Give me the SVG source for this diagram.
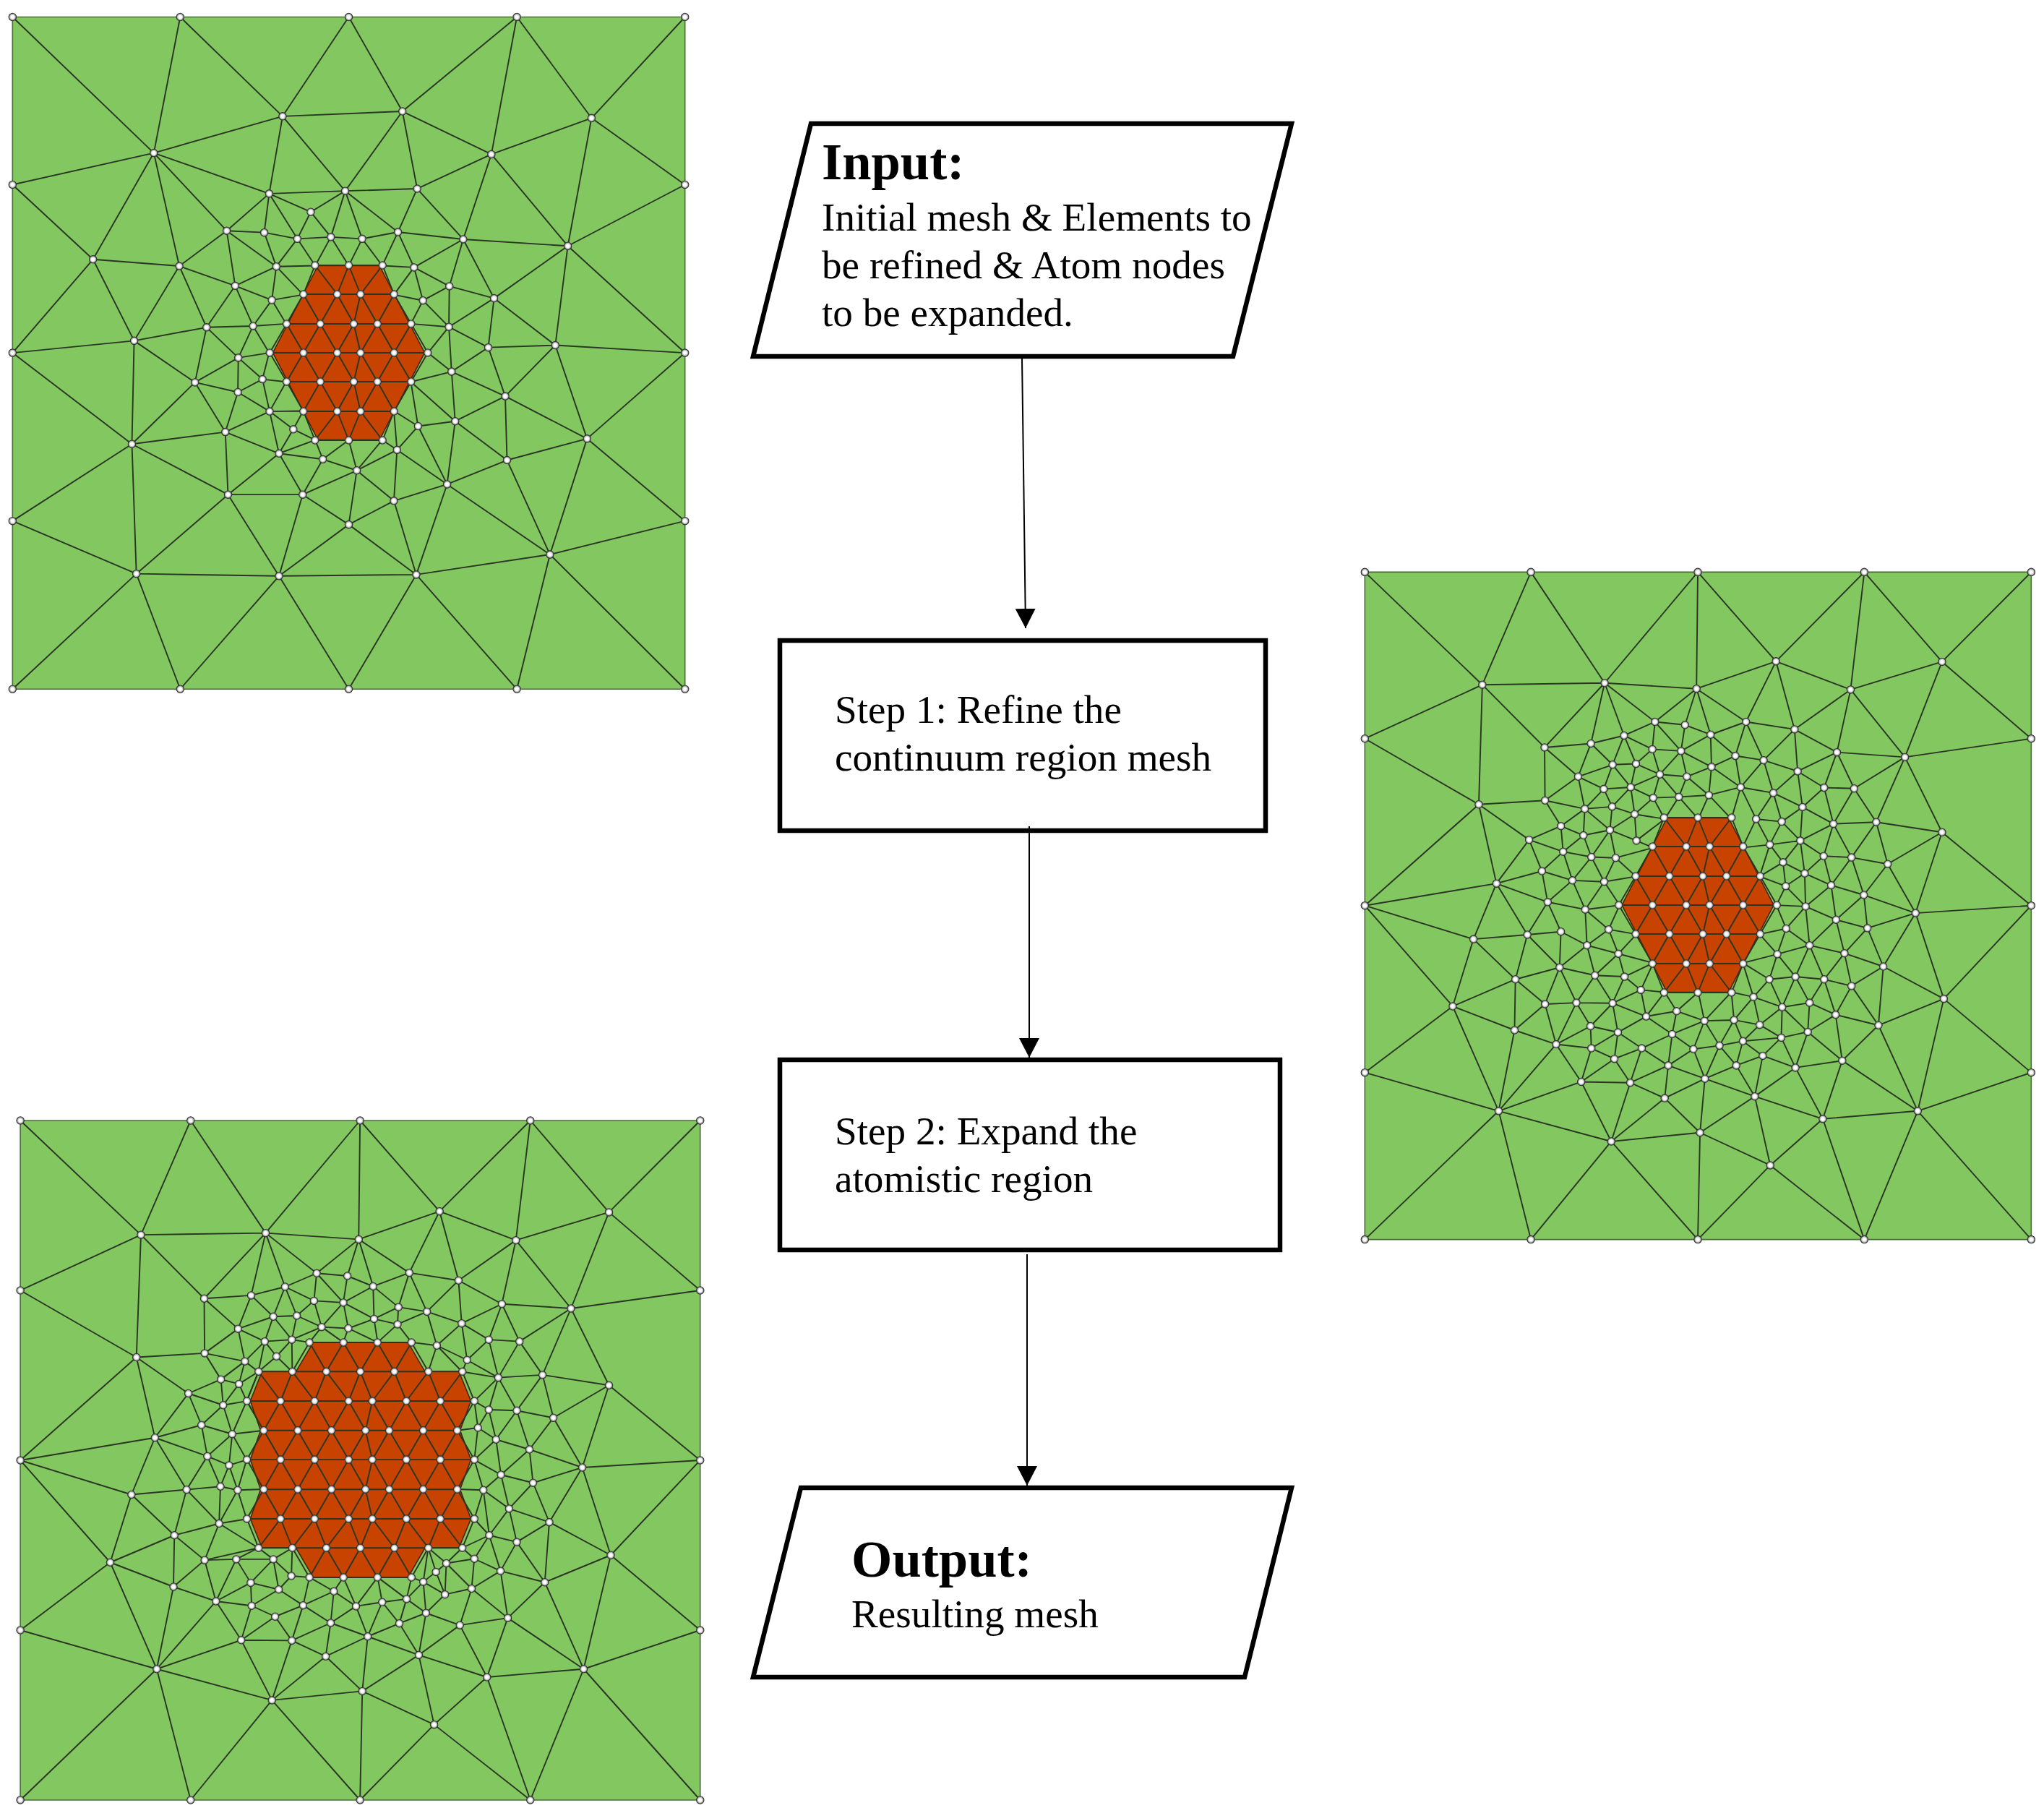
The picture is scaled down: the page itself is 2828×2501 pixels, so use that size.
<svg xmlns="http://www.w3.org/2000/svg" xmlns:xlink="http://www.w3.org/1999/xlink" width="2828" height="2501" viewBox="0 0 2828 2501">
<style>
.bg{fill:#82c760;stroke:#4a6b3a;stroke-width:1.6;vector-effect:non-scaling-stroke}
.e{fill:none;stroke:#2a3623;stroke-width:1.9;vector-effect:non-scaling-stroke;stroke-linejoin:round}
.r{fill:#c84300;stroke:#4a2410;stroke-width:1.6;vector-effect:non-scaling-stroke}
.n{fill:none;stroke:none;marker-start:url(#nd);marker-mid:url(#nd);marker-end:url(#nd)}
.box{fill:#fff;stroke:#000;stroke-width:6.5}
.t{font-family:"Liberation Serif","Times New Roman",serif;font-size:55.2px;fill:#000}
.h{font-family:"Liberation Serif","Times New Roman",serif;font-size:72.5px;font-weight:700;fill:#000}
.c{fill:none;stroke:#000;stroke-width:2;marker-end:url(#arr)}
</style>
<defs>
<radialGradient id="gn"><stop offset="0" stop-color="#fff"/><stop offset=".42" stop-color="#fff"/><stop offset=".7" stop-color="#bdbdbd"/><stop offset="1" stop-color="#6a6a6a"/></radialGradient>
<marker id="nd" viewBox="-7 -7 14 14" markerWidth="14" markerHeight="14" markerUnits="strokeWidth" refX="0" refY="0" orient="0"><circle r="5.2" fill="url(#gn)" stroke="#333" stroke-width="1.1"/></marker>
<marker id="arr" viewBox="0 0 27 28" markerWidth="27" markerHeight="28" markerUnits="userSpaceOnUse" refX="27" refY="14" orient="auto"><path d="M0 0L27 14L0 28Z" fill="#000"/></marker>
<g id="hex">
<polygon class="r" points="-42.5,-120.5 42.5,-120.5 105,0 42.5,120.5 -42.5,120.5 -105,0"/>
<g id="hexhalf"><path class="e" d="M-46.7 -121 46.7 -121M-62.7 -81 62.7 -81M-86 -40 86.3 -40M-109.3 0 109.3 0M-62.7 -81 -46.7 -121 -16 -81 0 -121 16.3 -81 46.7 -121 62.7 -81M-86 -40 -62.7 -81 -39.3 -40 -16 -81 7 -40 16.3 -81 39.7 -40 62.7 -81 86.3 -40M-109.3 0 -86 -40 -62.7 0 -39.3 -40 -16 0 7 -40 16.3 0 39.7 -40 62.7 0 86.3 -40 109.3 0"/></g>
<use xlink:href="#hexhalf" href="#hexhalf" transform="scale(1,-1)"/>
<path class="n" stroke-width="1" d="M-46.7 -121 0 -121 46.7 -121 -62.7 -81 -16 -81 16.3 -81 62.7 -81 -86 -40 -39.3 -40 7 -40 39.7 -40 86.3 -40 -109.3 0 -62.7 0 -16 0 16.3 0 62.7 0 109.3 0 -86 40 -39.3 40 7 40 39.7 40 86.3 40 -62.7 81 -16 81 16.3 81 62.7 81 -46.7 121 0 121 46.7 121"/>
</g>
</defs>
<rect width="2828" height="2501" fill="#fff"/>

<g id="mesh-initial" transform="scale(.6186)">
<rect class="bg" x="28" y="38" width="1504" height="1503"/>
<path class="e" d="M28 38 344 342 403 38 632 260 780 38 900 249 1156 38 1099 345M1156 38 1323 264 1532 38M28 413 344 342 632 260 900 249 1099 345 1323 264 1532 413 1270 550 1099 345 933 422 900 249 772 427 632 260 602 433 344 342 208 580 28 413M344 342 401 595M344 342 507 516 602 433 772 427 933 422M1099 345 1036 535M1323 264 1270 550M602 433 591 520M602 433 665 534M602 433 695 474 772 427 740 530 695 474 665 534M772 427 810 534M772 427 890 519 933 422 1036 535M507 516 591 520 665 534 740 530 810 534 890 519 1036 535 1270 550 1105 667 1036 535 1005 640M507 516 401 595 526 639 507 516 618 596 591 520M665 534 618 596 705 594 665 534M740 530 705 594M740 530 780 594 810 534 855 594 890 519 926 598 1036 535M1270 550 1242 772M1270 550 1532 789M208 580 401 595 300 762 208 580 28 789M401 595 462 732 526 639 618 596 608 671 526 639 566 729 608 671 678 659 618 596M608 671 640 724 566 729M926 598 855 594M926 598 881 659M926 598 946 672 1005 640 926 598M1005 640 1105 667M1005 640 1004 731 946 672 881 659M946 672 919 724 1004 731 1105 667 1092 777 1004 731 957 789 1010 831 1004 731M1105 667 1242 772M462 732 566 729M462 732 300 762 436 855 462 732 533 800 566 729 602 789 533 800 436 855 295 993 300 762 28 789 295 993M533 800 587 848 602 789M533 800 532 877 587 848 640 854M587 848 603 920 640 854M436 855 532 877 603 920M436 855 504 966 532 877M1010 831 919 854 1018 942 1010 831 1092 777 1242 772 1532 789M1010 831 1130 886 1092 777M1242 772 1130 886 1018 942M1242 772 1313 981 1130 886 1134 1029 1313 981 1532 789M1313 981 1532 1165 1230 1240 1313 981M919 854 935 953 1018 942 1000 1083 935 953 881 919M935 953 888 1006 881 919M1018 942 1134 1029 1000 1083 888 1006M1134 1029 1230 1240 1000 1083M603 920 678 919 656 960 603 920 504 966 295 993 510 1106 504 966 624 1014 603 920M656 960 705 984 624 1014 656 960M295 993 28 1165 305 1283 295 993M624 1014 722 1027 705 984M624 1014 510 1106 677 1106 624 1014M722 1027 780 984 798 1052 855 984 888 1006 798 1052 722 1027 677 1106 798 1052 780 1173 881 1120 798 1052M888 1006 881 1120 1000 1083 931 1285 881 1120M510 1106 305 1283M510 1106 624 1288 677 1106 780 1173 624 1288M780 1173 931 1285M305 1283 624 1288 931 1285 1230 1240 1532 1165M28 1541 305 1283 403 1541 624 1288 780 1541 931 1285 1156 1541 1230 1240 1532 1541"/>
<path class="n" stroke-width="1.62" d="M28 38 403 38 780 38 1156 38 1532 38 28 413 28 789 28 1165 28 1541 1532 413 1532 789 1532 1165 1532 1541 403 1541 780 1541 1156 1541 344 342 632 260 900 249 1323 264 1099 345 602 433 772 427 933 422 1270 550 208 580 401 595 507 516 591 520 695 474 665 534 740 530 810 534 890 519 1036 535 618 596 926 598 1005 640 1105 667 526 639 608 671 946 672 462 732 566 729 1004 731 300 762 1092 777 1242 772 533 800 1010 831 436 855 587 848 1130 886 532 877 603 920 1018 942 935 953 1313 981 295 993 504 966 656 960 888 1006 624 1014 722 1027 1134 1029 798 1052 1000 1083 510 1106 677 1106 881 1120 780 1173 1230 1240 305 1283 624 1288 931 1285"/>
</g>
<use id="mesh-initial-atoms" xlink:href="#hex" href="#hex" x="482.5" y="488"/>

<g id="mesh-refined" transform="translate(1870 770) scale(.611)">
<rect class="bg" x="30" y="35" width="1509" height="1511"/>
<path class="e" d="M30 35 296 290 406 35 573 286 784 35 781 299M784 35 961 237 1161 35 1130 301M1161 35 1337 238 1539 35M30 412 296 290 573 286 781 299 961 237 1130 301 1337 238 1539 412 1253 454 1337 238M1130 301 1253 454M30 412 288 561 296 290 437 432 573 286 542 423M573 286 617 405M573 286 687 374 781 299 755 381M781 299 813 403M781 299 893 374 961 237 1003 391 1130 301 1099 443 1253 454 1337 624 1277 807 1539 790 1337 624M1253 454 1188 601M1253 454 1138 525M1337 624 1188 601M1337 624 1214 696 1277 807 1160 766M1277 807 1168 841M1277 807 1204 928 1341 1001 1277 807M1341 1001 1539 790M1341 1001 1539 1168 1282 1255 1341 1001 1193 1061 1282 1255 1111 1141 1193 1061M1282 1255 1067 1273 1161 1546 1282 1255 1539 1546M1341 1001 1204 928M1067 1273 948 1378 1161 1546M1067 1273 1111 1141M1067 1273 1005 1157M1067 1273 913 1222 948 1378 784 1546 789 1304 948 1378M789 1304 588 1324 784 1546M789 1304 913 1222M789 1304 709 1226 588 1324 631 1191M588 1324 520 1189M588 1324 406 1546 333 1255 588 1324M333 1255 30 1546M333 1255 30 1168 229 1018 333 1255 369 1072 229 1018 30 790 276 866 229 1018 371 957 276 866 328 740 30 790 288 561 328 740 402 641 288 561 438 552 437 432 542 423 513 498 437 432M333 1255 463 1104M333 1255 520 1189M328 740 431 712M328 740 444 782M328 740 398 856 276 866M371 957 369 1072M542 423 617 405 687 374 755 381 813 403 893 374 1003 391 1099 443M542 423 591 471 617 405 681 436 687 374 746 440 755 381M617 405 644 469 681 436 746 440 813 403 815 476 746 440 698 493 681 436M813 403 869 451 893 374 933 461 1003 391 1010 486 1099 443 1070 523 1010 486 933 461 869 451 815 476 881 522 869 451M1099 443 1138 525 1070 523 1021 567 1091 605 1070 523M933 461 881 522 955 535 933 461M955 535 1010 486 1021 567 955 535 916 594 881 522 860 594 809 540 881 522 815 476 809 540 759 498 746 440M815 476 759 498 698 493 644 469 591 471 513 498 528 571 571 526 513 498 438 552 528 571 590 566 571 526 632 522 591 471 571 526M644 469 632 522 698 493 683 546 632 522 641 583 590 566 632 522M698 493 741 544 759 498M683 546 741 544 809 540 785 594 741 544 709 594 683 546 641 583 709 594M1138 525 1091 605 1188 601 1138 525M955 535 974 600 916 594 885 659 947 652 916 594M974 600 1021 567 1016 643 974 600 947 652 1016 643 1091 605 1069 678 1016 643 977 692 947 652 924 724 977 692 983 746 924 724M1091 605 1132 681 1188 601 1214 696 1132 681 1069 678 1026 717 1016 643M1069 678 1086 744 1026 717 977 692M1132 681 1086 744 1160 766 1132 681M1214 696 1160 766 1097 822 1086 744 1028 792 1026 717 983 746 1028 792 962 789 983 746M1160 766 1168 841 1097 822 1028 792 984 842 962 789M1028 792 1037 880 1097 822 1116 898 1168 841 1204 928 1116 898 1037 880 984 842 1037 880 964 900 984 842 924 855 964 900 886 920 946 957 964 900 1005 951 1037 880 1070 957 1116 898 1132 972 1204 928 1193 1061 1132 972 1070 957 1005 951 946 957 975 1020 1005 951 1037 1010 1070 957 1096 1037 1132 972M1096 1037 1193 1061M1037 1010 1096 1037 1033 1076 1037 1010 975 1020 1033 1076 973 1089 975 1020 910 997 946 957M886 920 910 997 860 986 866 1049 910 997 924 1060 975 1020M866 1049 924 1060 973 1089 886 1097 924 1060M866 1049 886 1097 833 1107 866 1049 799 1051 860 986M785 986 799 1051 736 1029 785 986M709 986 736 1029 667 1041 709 986 655 981 683 920 618 951 655 981 591 1011 618 951 604 899 683 920M604 899 551 948 618 951 591 1011 551 948 509 1010 591 1011 667 1041 655 981M509 1010 471 930 551 948 533 880 604 899 582 844 533 880 471 930 474 849 533 880 529 799 582 844 607 789 529 799 572 736 607 789M582 844 645 855 604 899M471 930 438 1013 509 1010 463 1104 438 1013 371 957 471 930 398 856 474 849 444 782 529 799 500 733 444 782 398 856 371 957M444 782 431 712 500 733 572 736 543 680 500 733 479 668 431 712 402 641 474 610 438 552M402 641 479 668 474 610 525 631 479 668 543 680 525 631 528 571 474 610M525 631 585 619 528 571M585 619 590 566M585 619 641 583 645 643 585 619 543 680 598 682 585 619M645 643 709 594M645 643 683 659 598 682 644 724 572 736 598 682M438 1013 369 1072 463 1104 369 1072M463 1104 541 1063 509 1010M541 1063 591 1011 603 1077 541 1063 543 1113 463 1104 520 1189 543 1113 603 1077 667 1041 591 1011M603 1077 657 1113 595 1137 520 1189 631 1191 595 1137 603 1077M595 1137 543 1113M657 1113 631 1191 717 1152 657 1113 726 1081 667 1041 736 1029 726 1081 799 1051 774 1115 726 1081 717 1152 774 1115 833 1107 799 1051M774 1115 800 1182 717 1152 709 1226 631 1191M709 1226 800 1182 789 1304M800 1182 833 1107 871 1152 800 1182 913 1222 871 1152 886 1097 931 1130 871 1152M931 1130 973 1089 886 1097M973 1089 1005 1157 931 1130 913 1222 1005 1157 1033 1076 973 1089M1033 1076 1111 1141 1005 1157M1096 1037 1111 1141"/>
<path class="n" stroke-width="1.64" d="M30 35 406 35 784 35 1161 35 1539 35 30 412 30 790 30 1168 30 1546 406 1546 784 1546 1161 1546 1539 1546 1539 412 1539 790 1539 1168 296 290 573 286 781 299 961 237 1130 301 1337 238 1253 454 1337 624 1277 807 1341 1001 1282 1255 1067 1273 948 1378 789 1304 588 1324 333 1255 229 1018 276 866 328 740 288 561 437 432 542 423 617 405 687 374 755 381 813 403 893 374 1003 391 1099 443 513 498 591 471 644 469 681 436 746 440 869 451 933 461 571 526 632 522 698 493 759 498 815 476 1010 486 438 552 528 571 590 566 683 546 741 544 809 540 881 522 955 535 1070 523 1138 525 641 583 916 594 974 600 1021 567 1091 605 1188 601 474 610 525 631 585 619 645 643 947 652 1016 643 402 641 479 668 543 680 598 682 977 692 1069 678 1132 681 1214 696 431 712 500 733 572 736 1026 717 983 746 1086 744 444 782 529 799 1028 792 1160 766 398 856 474 849 582 844 984 842 1097 822 1168 841 533 880 604 899 964 900 1037 880 1116 898 471 930 551 948 618 951 1204 928 371 957 655 981 910 997 946 957 1005 951 1070 957 1132 972 438 1013 509 1010 591 1011 736 1029 975 1020 1037 1010 667 1041 799 1051 866 1049 924 1060 1096 1037 1193 1061 369 1072 541 1063 603 1077 726 1081 973 1089 1033 1076 463 1104 543 1113 657 1113 774 1115 833 1107 886 1097 595 1137 717 1152 871 1152 931 1130 1005 1157 1111 1141 520 1189 631 1191 800 1182 709 1226 913 1222"/>
</g>
<use id="mesh-refined-atoms" xlink:href="#hex" href="#hex" x="2349" y="1252"/>

<g id="mesh-result">
<g transform="translate(0 1520) scale(.625)">
<rect class="bg" x="45" y="48" width="1505" height="1504"/>
<path class="e" d="M45 48 312 301 422 48 588 297 797 48 794 311M797 48 973 249 1174 48 1142 313M1174 48 1348 251 1550 48M45 424 312 301 588 297 794 311 973 249 1142 313 1348 251 1550 424 1264 464 1348 251M1142 313 1264 464 1348 634 1550 800 1289 816 1348 634 1201 611 1264 464 1150 537M1348 634 1225 706 1289 816 1172 776M1289 816 1180 850M1289 816 1216 937 1352 1010 1289 816M1352 1010 1550 800M1352 1010 1550 1176 1292 1262 1352 1010 1206 1070 1292 1262 1124 1149 1078 1280 1292 1262 1174 1552 1078 1280 961 1385 1174 1552M1292 1262 1550 1552M1352 1010 1216 937M1078 1280 1018 1165M1078 1280 927 1231 961 1385 797 1552 802 1311 961 1385M802 1311 602 1331 797 1552M802 1311 927 1231M802 1311 721 1234 602 1331 646 1199M802 1311 814 1190M602 1331 534 1198M602 1331 422 1552 347 1262 602 1331M347 1262 45 1552M347 1262 45 1176 244 1026 347 1262 384 1080 244 1026 45 800 291 876 244 1026 386 966 291 876 343 750 45 800 302 572 343 750 417 652 302 572 453 563 452 442 312 301 302 572 45 424M343 750 446 722M343 750 459 791M343 750 413 865 291 876M347 1262 478 1112M347 1262 534 1198M386 966 384 1080M588 297 452 442 556 435 588 297 631 416M588 297 701 386 794 311 769 392M794 311 826 415M794 311 906 385 973 249 1015 402 1142 313 1111 454 1264 464M452 442 527 509 556 435 631 416 701 386 769 392 826 415 906 385 1015 402 1111 454 1022 497 1015 402M556 435 605 482 631 416 695 447 701 386 760 451 769 392M631 416 657 480 695 447 760 451 826 415 828 487 760 451 712 505 695 447M826 415 882 461 906 385 945 471 1015 402M945 471 1022 497 1082 533 1111 454 1150 537 1082 533 1034 578 1022 497 967 546 945 471 880 499 882 461 945 471M882 461 828 487 880 499 836 539 828 487 771 508 760 451M880 499 911 539 967 546 948 604M967 546 1034 578 1023 604 967 546M1034 578 1103 617 1082 533M1150 537 1103 617 1023 604M1150 537 1201 611 1103 617 1144 690 1201 611 1225 706 1144 690 1172 776 1225 706M1144 690 1098 754 1172 776 1109 832 1098 754 1058 728 1012 734M1058 728 1050 799 1098 754 1082 688 1058 728 1050 669 1082 688 1103 617 1050 669M1082 688 1144 690M1109 832 1050 799 1070 866 1012 864M1070 866 1050 930 1083 966 1070 866 1127 907 1083 966 1144 981 1127 907 1109 832 1180 850 1172 776M1070 866 1109 832M1180 850 1127 907 1216 937 1180 850M1216 937 1144 981 1206 1070 1216 937M1206 1070 1108 1045 1144 981M1108 1045 1083 966 1050 1018 1108 1045 1044 1084 1050 1018 1023 994 1083 966M1206 1070 1124 1149 1108 1045M1044 1084 1124 1149 1018 1165 1044 1084 985 1097 988 1028 1044 1084M988 1028 1050 1018M988 1028 1023 994M988 1028 948 994 965 1047 988 1028M948 994 937 1069 965 1047 985 1097 937 1069 911 1059M937 1069 900 1107 911 1059M900 1107 836 1059 846 1114 900 1107 943 1138 937 1069M985 1097 943 1138 1018 1165 927 1231 943 1138 884 1161 927 1231 814 1190 884 1161 846 1114 814 1190 788 1123 846 1114 836 1059 788 1123 760 1059 739 1090 788 1123 732 1160 814 1190 721 1234 732 1160 739 1090 671 1121 732 1160 646 1199 671 1121 609 1146 557 1122 534 1198 609 1146 646 1199 534 1198 478 1112 384 1080M646 1199 721 1234M884 1161 900 1107M671 1121 685 1059 739 1090M671 1121 617 1086 605 1019 645 1056 617 1086 555 1071 605 1019 523 1019 555 1071 478 1112 557 1122 555 1071M617 1086 557 1122M605 1019 647 994 645 1056 685 1059M605 1019 572 994 523 1019 453 1021 572 994 485 940 546 930M523 1019 478 1112 453 1021 384 1080 386 966 453 1021 485 940 386 966 413 865 485 940 488 858 413 865 459 791 488 858 526 866 485 940M526 866 584 864M526 866 546 930M488 858 507 811 526 866 546 799 507 811 459 791 514 742 507 811M514 742 546 799M514 742 584 734 546 669 514 742 446 722 459 791M446 722 494 678 514 742M494 678 546 669 529 631 494 678 489 621 529 631 572 604 546 669M417 652 446 722M417 652 494 678M417 652 489 621 453 563 542 581 489 621M529 631 542 581 572 604 586 537 542 581 527 509 453 563M527 509 586 537 605 482 527 509M586 537 646 533 605 482 657 480 712 505 646 533 657 480M586 537 612 570 646 533 647 604 612 570 572 604M646 533 685 539 712 505 760 539 771 508 836 539M712 505 771 508 828 487"/>
<path class="n" stroke-width="1.6" d="M45 48 422 48 797 48 1174 48 1550 48 45 424 45 800 45 1176 45 1552 422 1552 797 1552 1174 1552 1550 1552 1550 424 1550 800 1550 1176 312 301 588 297 794 311 973 249 1142 313 1348 251 1264 464 1348 634 1289 816 1352 1010 1292 1262 1078 1280 961 1385 802 1311 602 1331 347 1262 244 1026 291 876 343 750 302 572 452 442 556 435 631 416 701 386 769 392 826 415 906 385 1015 402 1111 454 695 447 760 451 882 461 945 471 605 482 657 480 828 487 880 499 1022 497 527 509 712 505 771 508 646 533 586 537 1082 533 1150 537 967 546 453 563 612 570 542 581 1034 578 1103 617 1201 611 489 621 529 631 417 652 494 678 1082 688 1144 690 1225 706 446 722 514 742 1058 728 1098 754 1172 776 459 791 507 811 1109 832 1180 850 413 865 488 858 526 866 1070 866 1127 907 1216 937 485 940 386 966 1083 966 1144 981 453 1021 523 1019 605 1019 1050 1018 988 1028 965 1047 1108 1045 645 1056 937 1069 1206 1070 555 1071 384 1080 617 1086 739 1090 1044 1084 985 1097 900 1107 478 1112 671 1121 557 1122 846 1114 788 1123 943 1138 609 1146 1124 1149 732 1160 884 1161 1018 1165 814 1190 534 1198 646 1199 721 1234 927 1231"/>
</g>
<g transform="translate(200 1700) scale(.3954)">
<polygon class="r" points="590,397 922,397 981,499 1100,499 1142,602 1104,705 1142,807 1104,911 1142,1014 1100,1116 981,1116 922,1219 590,1219 530,1116 411,1116 370,1014 406,911 370,807 406,705 370,602 411,499 530,499"/>
<path class="e" d="M577 397 934 397M399 499 1112 499M358 602 1154 602M417 705 1094 705M358 807 1154 807M417 911 1094 911M358 1014 1154 1014M399 1116 1112 1116M577 1219 934 1219M517 499 577 397 636 499 696 397 755 499 815 397 874 499 934 397 993 499M358 602 399 499 476 602 517 499 595 602 636 499 714 602 755 499 797 602 874 499 916 602 993 499 1035 602 1112 499 1154 602M358 602 417 705 476 602 536 705 595 602 654 705 714 602 773 705 797 602 856 705 916 602 975 705 1035 602 1094 705 1154 602M358 807 417 705 476 807 536 705 595 807 654 705 714 807 773 705 797 807 856 705 916 807 975 705 1035 807 1094 705 1154 807M358 807 417 911 476 807 536 911 595 807 654 911 714 807 773 911 797 807 856 911 916 807 975 911 1035 807 1094 911 1154 807M358 1014 417 911 476 1014 536 911 595 1014 654 911 714 1014 773 911 797 1014 856 911 916 1014 975 911 1035 1014 1094 911 1154 1014M358 1014 399 1116 476 1014 517 1116 595 1014 636 1116 714 1014 755 1116 797 1014 874 1116 916 1014 993 1116 1035 1014 1112 1116 1154 1014M517 1116 577 1219 636 1116 696 1219 755 1116 815 1219 874 1116 934 1219 993 1116"/>
<path class="n" stroke-width="2.53" d="M577 397 696 397 815 397 934 397 399 499 517 499 636 499 755 499 874 499 993 499 1112 499 358 602 476 602 595 602 714 602 797 602 916 602 1035 602 1154 602 417 705 536 705 654 705 773 705 856 705 975 705 1094 705 358 807 476 807 595 807 714 807 797 807 916 807 1035 807 1154 807 417 911 536 911 654 911 773 911 856 911 975 911 1094 911 358 1014 476 1014 595 1014 714 1014 797 1014 916 1014 1035 1014 1154 1014 399 1116 517 1116 636 1116 755 1116 874 1116 993 1116 1112 1116 577 1219 696 1219 815 1219 934 1219"/>
</g>
</g>

<g id="node-input">
<polygon class="box" points="1122,171 1787,171 1706,493 1042,493"/>
<text class="h" x="1137" y="248">Input:</text>
<text class="t" x="1137" y="319">Initial mesh &amp; Elements to</text>
<text class="t" x="1137" y="385">be refined &amp; Atom nodes</text>
<text class="t" x="1137" y="451">to be expanded.</text>
</g>
<g id="node-step1">
<rect class="box" x="1079" y="886" width="672" height="263"/>
<text class="t" x="1155" y="1000">Step 1: Refine the</text>
<text class="t" x="1155" y="1066">continuum region mesh</text>
</g>
<g id="node-step2">
<rect class="box" x="1079" y="1466" width="692" height="263"/>
<text class="t" x="1155" y="1583">Step 2: Expand the</text>
<text class="t" x="1155" y="1649">atomistic region</text>
</g>
<g id="node-output">
<polygon class="box" points="1108,2058 1787,2058 1722,2320 1042,2320"/>
<text class="h" x="1178" y="2181">Output:</text>
<text class="t" x="1178" y="2251">Resulting mesh</text>
</g>
<g id="connectors">
<path class="c" stroke-width="1.6" d="M1414 495L1419 869"/>
<path class="c" d="M1424 1143L1424 1463"/>
<path class="c" d="M1421 1735L1421 2055"/>
</g>
</svg>
